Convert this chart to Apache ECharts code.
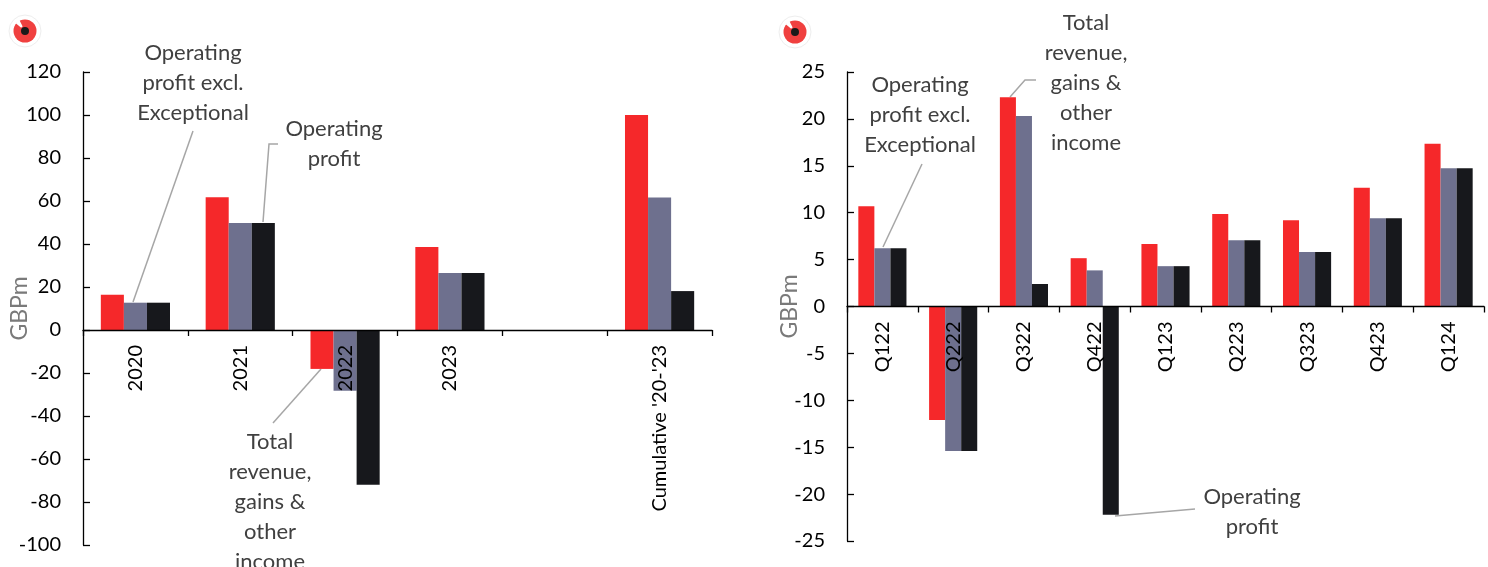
<!DOCTYPE html>
<html>
<head>
<meta charset="utf-8">
<script src="https://cdn.jsdelivr.net/npm/echarts@6/dist/echarts.min.js"></script>
<style>
  html, body { margin: 0; padding: 0; background: #fff; }
  #chart { width: 1488px; height: 567px; }
</style>
</head>
<body>
<div id="chart"></div>
<script>
// annual figures, GBPm
const years = ['2020', '2021', '2022', '2023', '', "Cumulative '20-'23"];
const yearRevenue = [16.4, 61.7, -18.1, 38.6, null, 100];
const yearOpExcl = [12.7, 49.8, -28.2, 26.5, null, 61.6];
const yearOp = [12.7, 49.8, -72, 26.5, null, 18.1];

// quarterly figures, GBPm
const quarters = ['Q122', 'Q222', 'Q322', 'Q422', 'Q123', 'Q223', 'Q323', 'Q423', 'Q124'];
const qRevenue = [10.7, -12.1, 22.3, 5.15, 6.65, 9.85, 9.2, 12.65, 17.35];
const qOpExcl = [6.2, -15.4, 20.3, 3.85, 4.3, 7.05, 5.8, 9.4, 14.75];
const qOp = [6.2, -15.4, 2.4, -22.2, 4.3, 7.05, 5.8, 9.4, 14.75];

const seriesNames = ['Total revenue, gains & other income', 'Operating profit excl. Exceptional', 'Operating profit'];
const colors = ['#F5282A', '#6E708E', '#17181C'];

const FONT = 'Lato, "Liberation Sans", sans-serif';
const noteColor = '#404040';
const leaderColor = '#A6A6A6';

const grids = [
    { left: 83, top: 72, width: 629, height: 473, containLabel: false, outerBoundsMode: 'none' },
    { left: 847, top: 72, width: 637, height: 469, containLabel: false, outerBoundsMode: 'none' }
];
const ranges = [[-100, 120, 20], [-25, 25, 5]];
const nameGaps = [52, 46];

const chart = echarts.init(document.getElementById('chart'));

// put the category axis on the zero line by shifting it up from the grid bottom
function xAxisFor(gridIndex, data) {
    const [min, max] = ranges[gridIndex];
    const shift = grids[gridIndex].height * (0 - min) / (max - min);
    return {
        type: 'category',
        gridIndex: gridIndex,
        data: data,
        z: 5,
        offset: -shift,
        axisLine: { onZero: false, lineStyle: { color: '#000', width: 1.3 } },
        axisTick: { show: true, length: 6, lineStyle: { color: '#000', width: 1.3 } },
        axisLabel: {
            rotate: 90,
            margin: 15,
            color: '#000',
            fontSize: 20,
            fontFamily: FONT
        }
    };
}

function yAxisFor(gridIndex) {
    const [min, max, interval] = ranges[gridIndex];
    return {
        type: 'value',
        gridIndex: gridIndex,
        min: min,
        max: max,
        interval: interval,
        name: 'GBPm',
        nameLocation: 'middle',
        nameRotate: 90,
        nameGap: nameGaps[gridIndex],
        nameMoveOverlap: false,
        nameTextStyle: { color: '#7A7A7A', fontSize: 23, fontFamily: FONT },
        splitLine: { show: false },
        axisLine: { show: true, lineStyle: { color: '#000', width: 1.3 } },
        axisTick: { show: true, inside: true, length: 7, lineStyle: { color: '#000', width: 1.3 } },
        axisLabel: { margin: 22, color: '#000', fontSize: 20, fontFamily: FONT }
    };
}

function barsFor(axisIndex, lists, gap) {
    return lists.map((values, i) => ({
        name: seriesNames[i],
        type: 'bar',
        xAxisIndex: axisIndex,
        yAxisIndex: axisIndex,
        barGap: '0%',
        barCategoryGap: gap,
        itemStyle: { color: colors[i] },
        data: values
    }));
}

function note(x, y, text) {
    return {
        type: 'text',
        x: x,
        y: y,
        style: {
            text: text,
            fill: noteColor,
            font: '22px ' + FONT,
            align: 'center',
            verticalAlign: 'top',
            lineHeight: 30
        }
    };
}

function leader(points) {
    return {
        type: 'polyline',
        shape: { points: points },
        style: { stroke: leaderColor, lineWidth: 1.5, fill: null }
    };
}

function logo(cx, cy) {
    return {
        type: 'group',
        children: [
            { type: 'circle', shape: { cx: cx, cy: cy, r: 16 }, style: { fill: '#fff', stroke: '#EEEEEE', lineWidth: 1 } },
            { type: 'circle', shape: { cx: cx, cy: cy, r: 11.5 }, style: { fill: '#F0403F' } },
            { type: 'sector', shape: { cx: cx, cy: cy, r: 12, r0: 5, startAngle: -2.45, endAngle: -2.05 }, style: { fill: '#fff' } },
            { type: 'circle', shape: { cx: cx, cy: cy, r: 4 }, style: { fill: '#1A1A1A' } }
        ]
    };
}

const option = {
    backgroundColor: '#FFFFFF',
    animation: false,
    textStyle: { fontFamily: FONT },
    grid: grids,
    xAxis: [xAxisFor(0, years), xAxisFor(1, quarters)],
    yAxis: [yAxisFor(0), yAxisFor(1)],
    series: [
        ...barsFor(0, [yearRevenue, yearOpExcl, yearOp], '34%'),
        ...barsFor(1, [qRevenue, qOpExcl, qOp], '32%')
    ],
    graphic: [
        logo(25, 31),
        logo(795, 32),
        // left chart notes
        note(193, 38, 'Operating\nprofit excl.\nExceptional'),
        leader([[193, 131], [133, 302]]),
        note(334, 114, 'Operating\nprofit'),
        leader([[278, 144], [269, 144], [263, 222]]),
        note(270, 427, 'Total\nrevenue,\ngains &\nother\nincome'),
        leader([[321, 369], [273, 423]]),
        // right chart notes
        note(920, 70, 'Operating\nprofit excl.\nExceptional'),
        leader([[922, 164], [883, 247]]),
        note(1086, 8, 'Total\nrevenue,\ngains &\nother\nincome'),
        leader([[1036, 80], [1025, 80], [1010, 97]]),
        note(1252, 482, 'Operating\nprofit'),
        leader([[1195, 509], [1115, 516]])
    ]
};

chart.setOption(option);
</script>
</body>
</html>
